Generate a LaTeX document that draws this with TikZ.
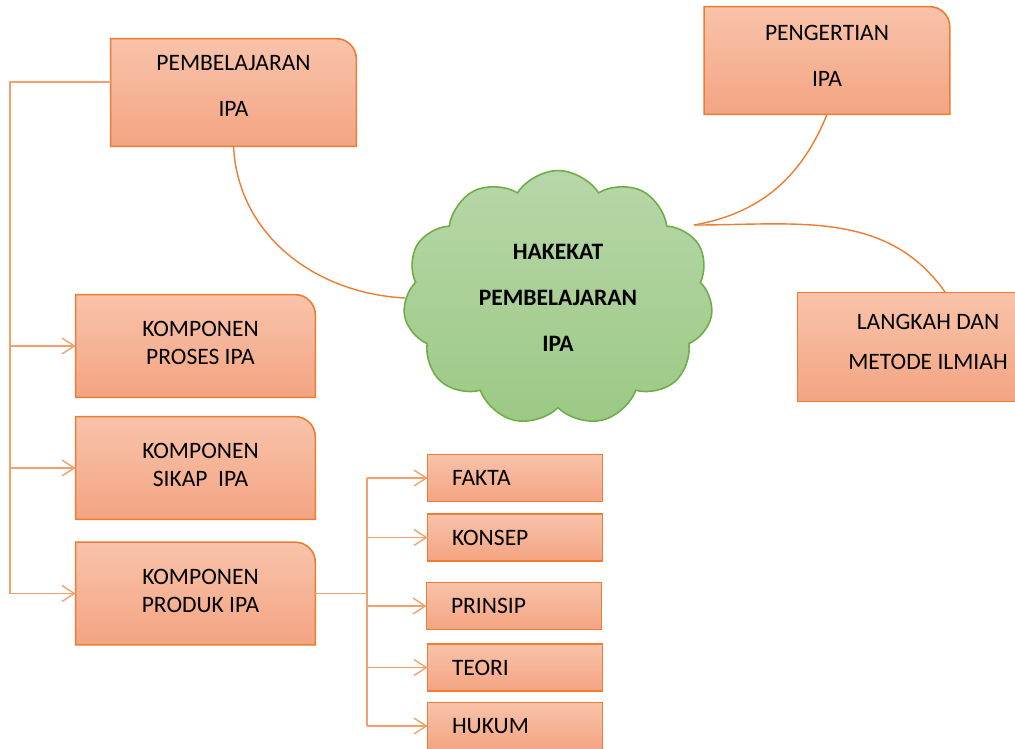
\documentclass[tikz,border=0pt]{standalone}
\usepackage{fontspec}
\setmainfont{Carlito}
\usetikzlibrary{arrows.meta,shapes.symbols,backgrounds}

\definecolor{boxtop}{HTML}{F8C3AA}
\definecolor{boxbot}{HTML}{F4A482}
\definecolor{boxline}{HTML}{ED7D31}
\definecolor{treeline}{HTML}{F2A06E}
\definecolor{cloudtop}{HTML}{B7D7A8}
\definecolor{cloudbot}{HTML}{9CC985}
\definecolor{cloudline}{HTML}{70AD47}

\tikzset{
  box/.style={minimum width=4.9cm,minimum height=2.14cm,inner sep=0pt,align=center,text depth=0.26cm},
  kbox/.style={minimum width=4.78cm,minimum height=2.04cm,inner sep=0pt,align=center,text depth=0.12cm},
  sbox/.style={text width=2.52cm,inner xsep=0.48cm,inner ysep=0pt,minimum height=0.92cm,align=left},
  boxshade/.style={top color=boxtop,bottom color=boxbot,draw=boxline,line width=0.9pt},
  link/.style={draw=boxline,line width=0.8pt},
  tree/.style={draw=treeline,line width=0.8pt},
  arr/.style={tree,-{Straight Barb[length=7pt,width=9pt]}}
}

\begin{document}
\begin{tikzpicture}[x=0.02cm,y=-0.02cm,font=\fontsize{13.4}{16}\selectfont]
\useasboundingbox (0,0) rectangle (1015,748);
\clip (0,0) rectangle (1015,748);

\node[cloud,cloud puffs=11,cloud puff arc=115,aspect=1.2,top color=cloudtop,bottom color=cloudbot,
  draw=cloudline,line width=0.9pt,minimum width=6.2cm,minimum height=5.1cm,inner sep=0pt,
  align=center,font=\fontsize{13.4}{16}\selectfont\bfseries] (hakekat) at (558,298)
  {HAKEKAT\\[10pt]PEMBELAJARAN\\[10pt]IPA};
\coordinate (cr) at ([xshift=2.72cm,yshift=1.46cm]hakekat.center);

\node[box] (pemb) at (233.5,92.5) {PEMBELAJARAN\\[10pt]IPA};
\node[box,text depth=0.18cm] (peng) at (827,60.5) {PENGERTIAN\\[10pt]IPA};
\node[box,minimum height=2.16cm,text depth=0.2cm] (langkah) at (920.5,347) {\hspace{0.3cm}LANGKAH DAN\\[7pt]\hspace{0.3cm}METODE ILMIAH};
\node[kbox] (proses) at (195.5,346) {\hspace{0.2cm}KOMPONEN\\\hspace{0.2cm}PROSES IPA};
\node[kbox] (sikap) at (195.5,468) {\hspace{0.2cm}KOMPONEN\\\hspace{0.2cm}SIKAP\ \ IPA};
\node[kbox] (produk) at (195.5,593.5) {\hspace{0.2cm}KOMPONEN\\\hspace{0.2cm}PRODUK IPA};
\node[sbox] (fakta) at (515,478) {FAKTA};
\node[sbox] (konsep) at (515,537.5) {KONSEP};
\node[sbox] (prinsip) at (514,606) {PRINSIP};
\node[sbox] (teori) at (515,667.5) {TEORI};
\node[sbox] (hukum) at (515,726) {HUKUM};

\begin{scope}[on background layer]
\foreach \n in {pemb,peng,proses,sikap,produk}
  \shadedraw[boxshade] (\n.south west) -- (\n.north west) -- ([xshift=-0.4cm]\n.north east)
    .. controls ([xshift=-0.18cm]\n.north east) and ([yshift=-0.18cm]\n.north east) .. ([yshift=-0.4cm]\n.north east)
    -- (\n.south east) -- cycle;
\foreach \n in {langkah,fakta,konsep,prinsip,teori,hukum}
  \shadedraw[boxshade] (\n.south west) rectangle (\n.north east);
\end{scope}

% links to the cloud
\draw[link] (pemb.south) to[out=-87,in=177] (hakekat.west);
\draw[link] (peng.south) to[out=-112,in=10] (cr);
\draw[link] (cr) to[out=0,in=125] ([xshift=0.5cm]langkah.north);

% left tree
\coordinate (lt) at (10,82);
\draw[tree] (pemb.west |- lt) -- (lt) -- (lt |- produk.west);
\foreach \n in {proses,sikap,produk}
  \draw[arr] (lt |- \n.west) -- (\n.west);

% right tree
\coordinate (rt) at (367,592);
\draw[tree] (produk.east) -- (produk.east -| rt);
\draw[tree] (rt |- fakta.west) -- (rt |- hukum.west);
\foreach \n in {fakta,konsep,prinsip,teori,hukum}
  \draw[arr] (rt |- \n.west) -- (\n.west);
\end{tikzpicture}
\end{document}
